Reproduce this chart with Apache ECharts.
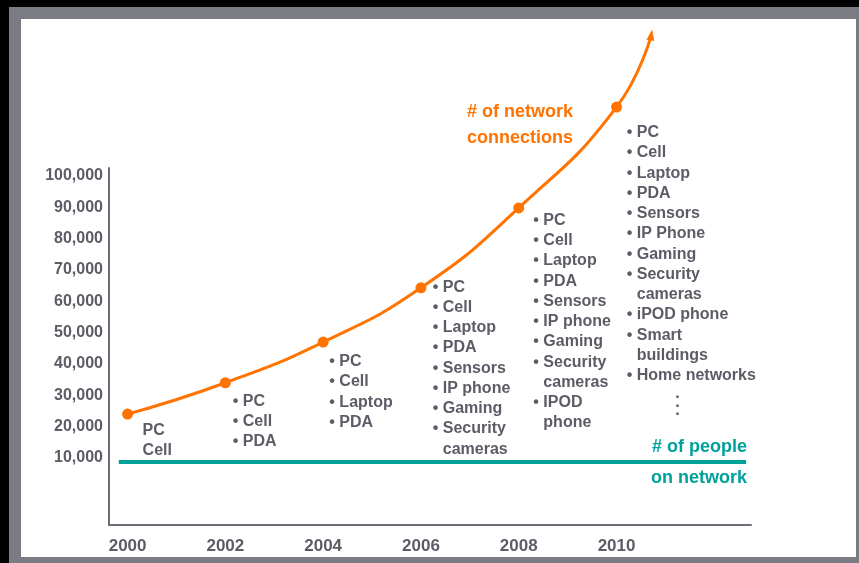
<!DOCTYPE html>
<html>
<head>
<meta charset="utf-8">
<script src="https://cdn.jsdelivr.net/npm/echarts@6/dist/echarts.min.js"></script>
<style>
html,body{margin:0;padding:0;background:#000;overflow:hidden;}
#frame{position:absolute;left:9px;top:7px;width:850px;height:556px;background:#7b7b83;}
#paper{position:absolute;left:21px;top:19px;width:835px;height:538px;background:#fff;}
#c{position:absolute;left:0;top:0;width:859px;height:563px;}
</style>
</head>
<body>
<div id="frame"></div>
<div id="paper"></div>
<div id="c"></div>
<script>
// ---- data ----
const years = [2000, 2002, 2004, 2006, 2008, 2010];
const connections = [24000, 34000, 47000, 64300, 89800, 122000];
const connectionsArrowTip = [2010.71, 145000];
const peopleOnNetwork = 8700;
const peopleSpan = [1999.82, 2012.65];
const yTickValues = [10000, 20000, 30000, 40000, 50000, 60000, 70000, 80000, 90000, 100000];
const xTickValues = [2000, 2002, 2004, 2006, 2008, 2010];
const devicesByYear = [
  ['PC', 'Cell'],
  ['PC', 'Cell', 'PDA'],
  ['PC', 'Cell', 'Laptop', 'PDA'],
  ['PC', 'Cell', 'Laptop', 'PDA', 'Sensors', 'IP phone', 'Gaming', 'Security\ncameras'],
  ['PC', 'Cell', 'Laptop', 'PDA', 'Sensors', 'IP phone', 'Gaming', 'Security\ncameras', 'IPOD\nphone'],
  ['PC', 'Cell', 'Laptop', 'PDA', 'Sensors', 'IP Phone', 'Gaming', 'Security\ncameras', 'iPOD phone', 'Smart\nbuildings', 'Home networks']
];
const bulleted = [false, true, true, true, true, true];
const connectionsLabel = ['# of network', 'connections'];
const peopleLabel = ['# of people', 'on network'];

// ---- styles / layout ----
const FONT = "'Liberation Sans', Arial, sans-serif";
const GRAY = '#5c5c66';
const AXIS = '#6d6d75';
const ORANGE = '#FF7300';
const TEAL = '#00A19A';
const LINE_H = 20.25;
const blockLayout = [
  {dx: 15, top: 420},
  {dx: 7.4, top: 391},
  {dx: 6.2, top: 351.5},
  {dx: 11.8, top: 277.2},
  {dx: 14.6, top: 210.3},
  {dx: 10.2, top: 122.5}
];

const chart = echarts.init(document.getElementById('c'), null, {renderer: 'canvas'});

const connData = years.map((y, i) => [y, connections[i]]);
connData.push({value: connectionsArrowTip, symbol: 'triangle', symbolSize: [8, 11], symbolRotate: -9});

chart.setOption({
  animation: false,
  backgroundColor: 'transparent',
  grid: {left: 109, right: 108, top: 168, bottom: 38},
  xAxis: {
    type: 'value', min: 1999.62, max: 2012.75,
    axisLine: {show: true, onZero: false, lineStyle: {color: AXIS, width: 2}},
    axisTick: {show: false},
    splitLine: {show: false},
    axisLabel: {
      customValues: xTickValues, margin: 13,
      color: GRAY, fontSize: 17, fontWeight: 'bold', fontFamily: FONT,
      formatter: v => String(v)
    }
  },
  yAxis: {
    type: 'value', min: -11400, max: 102550,
    axisLine: {show: true, onZero: false, lineStyle: {color: AXIS, width: 2}},
    axisTick: {show: false},
    splitLine: {show: false},
    axisLabel: {
      customValues: yTickValues, margin: 6,
      color: GRAY, fontSize: 16, fontWeight: 'bold', fontFamily: FONT,
      padding: [3, 0, 0, 0],
      formatter: v => v.toLocaleString('en-US')
    }
  },
  series: [
    {
      name: 'connections', type: 'line', data: connData,
      smooth: 0.5, clip: false,
      symbol: 'circle', symbolSize: 11, showAllSymbol: true,
      itemStyle: {color: ORANGE},
      lineStyle: {color: ORANGE, width: 3},
      z: 4
    },
    {
      name: 'people', type: 'line',
      data: [[peopleSpan[0], peopleOnNetwork], [peopleSpan[1], peopleOnNetwork]],
      symbol: 'none', clip: false,
      lineStyle: {color: TEAL, width: 4},
      z: 3
    }
  ]
});

// ---- annotations (text) ----
const graphics = [];
function txt(text, x, y, opt) {
  graphics.push({
    type: 'text', silent: true,
    style: Object.assign({
      text: text, x: x, y: y,
      fill: GRAY, fontSize: 16, fontWeight: 'bold', fontFamily: FONT,
      textAlign: 'left', textVerticalAlign: 'middle'
    }, opt || {})
  });
}
devicesByYear.forEach((items, bi) => {
  const px = chart.convertToPixel({gridIndex: 0}, [years[bi], 0])[0];
  const x0 = px + blockLayout[bi].dx;
  let row = 0;
  items.forEach(item => {
    item.split('\n').forEach((line, li) => {
      const cy = blockLayout[bi].top + LINE_H * (row + 0.5);
      if (bulleted[bi]) {
        if (li === 0) txt('\u2022', x0, cy);
        txt(line, x0 + 10, cy);
      } else {
        txt(line, x0, cy);
      }
      row++;
    });
  });
  if (bi === devicesByYear.length - 1) {
    const dotX = x0 + 50.5;
    const dotTop = blockLayout[bi].top + LINE_H * row;
    [0, 1, 2].forEach(k => txt('\u25A0', dotX, dotTop + 11 + k * 8.5, {fontSize: 5, textAlign: 'center'}));
  }
});
connectionsLabel.forEach((t, i) => txt(t, 467, 112 + i * 26, {fill: ORANGE, fontSize: 18}));
peopleLabel.forEach((t, i) => txt(t, 747, 447 + i * 31, {fill: TEAL, fontSize: 18, textAlign: 'right'}));

chart.setOption({graphic: {elements: graphics}});
</script>
</body>
</html>
